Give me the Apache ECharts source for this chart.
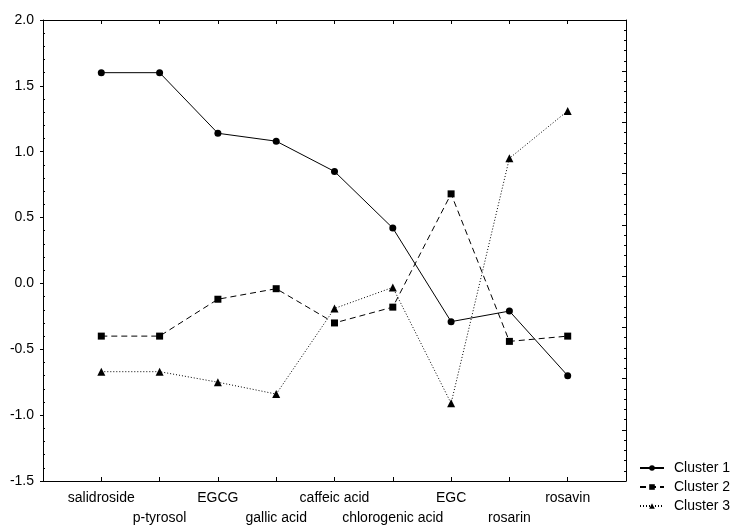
<!DOCTYPE html>
<html>
<head>
<meta charset="utf-8">
<script src="https://cdn.jsdelivr.net/npm/echarts@6/dist/echarts.min.js"></script>
<style>
  html, body { margin: 0; padding: 0; background: #fff; }
  #chart { width: 736px; height: 528px; }
</style>
</head>
<body>
<div id="chart"></div>
<script>
// compounds along the x axis
var compounds = ['salidroside', 'p-tyrosol', 'EGCG', 'gallic acid', 'caffeic acid',
                 'chlorogenic acid', 'EGC', 'rosarin', 'rosavin'];

// cluster means
var cluster1 = [1.60, 1.60, 1.14, 1.08, 0.85, 0.42, -0.29, -0.21, -0.70];
var cluster2 = [-0.40, -0.40, -0.12, -0.04, -0.30, -0.18, 0.68, -0.44, -0.40];
var cluster3 = [-0.67, -0.67, -0.75, -0.84, -0.19, -0.03, -0.91, 0.95, 1.31];

var yTicks = { min: -1.5, max: 2.0, step: 0.5 };

var chart = echarts.init(document.getElementById('chart'));

// put each value at its compound's slot (1..9 on a 0..10 scale)
function toPoints(vals) {
    return vals.map(function (v, i) { return [i + 1, v]; });
}

var font = 'Liberation Sans, Arial, sans-serif';
var black = '#000';

function makeSeries(name, vals, symbol, dash) {
    return {
        name: name,
        type: 'line',
        xAxisIndex: 0,
        yAxisIndex: 0,
        data: toPoints(vals),
        symbol: symbol,
        symbolSize: symbol === 'triangle' ? 8 : 7,
        showAllSymbol: true,
        itemStyle: { color: black },
        lineStyle: { color: black, width: 1, type: dash },
        emphasis: { disabled: true },
        animation: false
    };
}

var xLabel = function (v) {
    var i = Math.round(v) - 1;
    if (i < 0 || i >= compounds.length) return '';
    return (i % 2 ? '\n' : '') + compounds[i];
};

chart.setOption({
    backgroundColor: '#fff',
    animation: false,
    textStyle: { fontFamily: font },
    grid: { left: 43, top: 20, right: 110, bottom: 44, containLabel: false },
    legend: {
        orient: 'vertical',
        left: 634,
        top: 456,
        itemWidth: 24,
        itemHeight: 7,
        itemGap: 5,
        data: ['Cluster 1', 'Cluster 2', 'Cluster 3'],
        textStyle: { color: black, fontSize: 14, fontFamily: font, lineHeight: 14, padding: [0, 0, 0, 5] }
    },
    xAxis: [{
        type: 'value',
        position: 'bottom',
        min: 0, max: 10, interval: 1,
        axisLine: { show: true, onZero: false, lineStyle: { color: black, width: 1 } },
        axisTick: { show: true, inside: true, length: 4, lineStyle: { color: black } },
        axisLabel: {
            formatter: xLabel, margin: 7, lineHeight: 20,
            fontSize: 14, color: black, fontFamily: font,
            showMinLabel: true, showMaxLabel: true
        },
        splitLine: { show: false }
    }, {
        type: 'value',
        position: 'top',
        min: 0, max: 10, interval: 1,
        axisLine: { show: true, onZero: false, lineStyle: { color: black, width: 1 } },
        axisTick: { show: true, inside: true, length: 4, lineStyle: { color: black } },
        axisLabel: { show: false },
        splitLine: { show: false }
    }],
    yAxis: [{
        type: 'value',
        position: 'left',
        min: yTicks.min, max: yTicks.max, interval: yTicks.step,
        axisLine: { show: true, onZero: false, lineStyle: { color: black, width: 1 } },
        axisTick: { show: true, inside: false, length: 3, lineStyle: { color: black } },
        axisLabel: {
            formatter: function (v) { return v.toFixed(1); },
            margin: 9, fontSize: 14, color: black, fontFamily: font
        },
        splitLine: { show: false }
    }, {
        // inner minor ticks on the left edge
        type: 'value',
        position: 'left',
        min: yTicks.min, max: yTicks.max, interval: yTicks.step,
        axisLine: { show: false, onZero: false },
        axisTick: { show: false, inside: true },
        minorTick: { show: true, splitNumber: 5, length: 2, lineStyle: { color: black } },
        axisLabel: { show: false },
        splitLine: { show: false }
    }, {
        // right edge has its own tick scale
        type: 'value',
        position: 'right',
        min: 0, max: 9, interval: 1,
        axisLine: { show: true, onZero: false, lineStyle: { color: black, width: 1 } },
        axisTick: { show: true, inside: true, length: 4, lineStyle: { color: black } },
        minorTick: { show: true, splitNumber: 5, length: 2, lineStyle: { color: black } },
        axisLabel: { show: false },
        splitLine: { show: false }
    }],
    series: [
        makeSeries('Cluster 1', cluster1, 'circle', 'solid'),
        makeSeries('Cluster 2', cluster2, 'rect', [6, 4]),
        makeSeries('Cluster 3', cluster3, 'triangle', [1, 2])
    ]
});
</script>
</body>
</html>
